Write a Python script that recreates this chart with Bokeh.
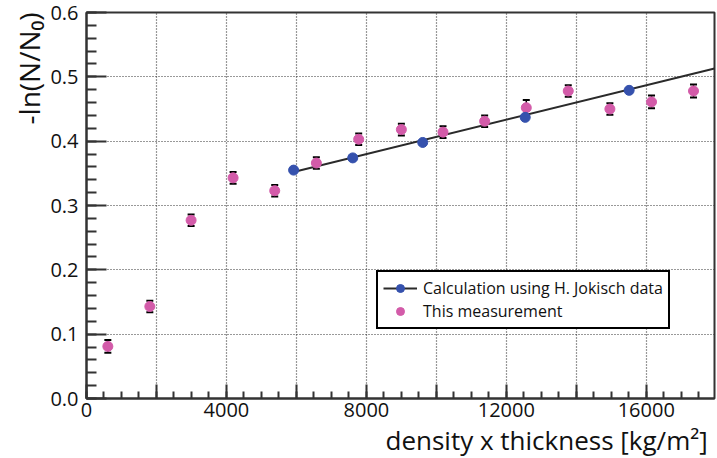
from bokeh.plotting import figure
from bokeh.models import (ColumnDataSource, Range1d, FixedTicker, NumeralTickFormatter,
                          Whisker, TeeHead, Legend, LegendItem, Title)
from bokeh.embed import file_html
from bokeh.resources import INLINE

# ---- data ----
meas_x = [610, 1810, 2990, 4190, 5380, 6570, 7780, 9000, 10190, 11380, 12570, 13770, 14960, 16150, 17350]
meas_y = [0.081, 0.143, 0.277, 0.343, 0.323, 0.366, 0.403, 0.418, 0.414, 0.431, 0.452, 0.478, 0.450, 0.461, 0.478]
meas_err = [0.010, 0.009, 0.009, 0.009, 0.009, 0.009, 0.009, 0.009, 0.009, 0.009, 0.012, 0.009, 0.009, 0.010, 0.010]

calc_x = [5920, 7610, 9610, 12540, 15510]
calc_y = [0.355, 0.374, 0.398, 0.437, 0.479]

fit_x = [5920, 17950]
fit_y = [0.352, 0.513]

x_major = [0, 2000, 4000, 6000, 8000, 10000, 12000, 14000, 16000]
x_labelled = [0, 4000, 8000, 12000, 16000]
x_minor_step = 500
y_major = [0.0, 0.1, 0.2, 0.3, 0.4, 0.5, 0.6]
y_minor_step = 0.02

pink = "#d35ba9"
blue = "#3551ad"

p = figure(width=716, height=457, output_backend="svg", toolbar_location=None,
           x_range=Range1d(0, 17950), y_range=Range1d(0, 0.6),
           min_border_left=86, min_border_right=2, min_border_top=12, min_border_bottom=59)
p.background_fill_color = "white"
p.border_fill_color = "white"
p.outline_line_color = "#333333"
p.outline_line_width = 2

# ticks
x_minor = [i * x_minor_step for i in range(0, 37)]
p.xaxis.ticker = FixedTicker(ticks=x_major, minor_ticks=x_minor)
p.xaxis.major_label_overrides = {t: ("" if t not in x_labelled else str(t)) for t in x_major}
y_minor = [round(i * y_minor_step, 2) for i in range(0, 31)]
p.yaxis.ticker = FixedTicker(ticks=y_major, minor_ticks=y_minor)
p.yaxis.formatter = NumeralTickFormatter(format="0.0")

for ax in (p.xaxis, p.yaxis):
    ax.axis_line_color = "#333333"
    ax.axis_line_width = 2
    ax.major_tick_line_color = "#333333"
    ax.minor_tick_line_color = "#333333"
    ax.major_tick_line_width = 2
    ax.minor_tick_line_width = 2
    ax.major_tick_out = 0
    ax.minor_tick_out = 0
    ax.major_label_text_font = "Open Sans"
    ax.major_label_text_font_size = "20px"
    ax.major_label_text_color = "#111111"
p.yaxis.major_tick_in = 20
p.yaxis.minor_tick_in = 10
p.xaxis.major_tick_in = 14
p.xaxis.minor_tick_in = 7
p.yaxis.major_label_standoff = 8
p.xaxis.major_label_standoff = 4

for g in (p.xgrid, p.ygrid):
    g.grid_line_color = "#333333"
    g.grid_line_dash = "1 2"
    g.grid_line_width = 1.2

# fit line
fit_r = p.line(fit_x, fit_y, line_color="#2a2a2a", line_width=2)

# error bars
src_m = ColumnDataSource(data=dict(
    x=meas_x, y=meas_y,
    upper=[y + e for y, e in zip(meas_y, meas_err)],
    lower=[y - e for y, e in zip(meas_y, meas_err)]))
wh = Whisker(base="x", upper="upper", lower="lower", source=src_m,
             line_color="black", line_width=1.5,
             upper_head=TeeHead(size=7, line_color="black", line_width=2),
             lower_head=TeeHead(size=7, line_color="black", line_width=2))
p.add_layout(wh)

meas_r = p.scatter("x", "y", source=src_m, size=10, fill_color=pink, line_color=pink)
calc_r = p.scatter(calc_x, calc_y, size=10, fill_color=blue, line_color=blue)

legend = Legend(items=[
    LegendItem(label="Calculation using H. Jokisch data", renderers=[fit_r, calc_r]),
    LegendItem(label="This measurement", renderers=[meas_r]),
], location=(290, 69))
legend.border_line_color = "black"
legend.border_line_width = 2
legend.border_line_alpha = 1
legend.background_fill_color = "white"
legend.background_fill_alpha = 1
legend.label_text_font = "Open Sans"
legend.label_text_font_size = "16px"
legend.label_text_color = "#111111"
legend.padding = 5
legend.spacing = 1
legend.margin = 0
legend.glyph_width = 34
legend.glyph_height = 20
legend.label_height = 20
legend.label_standoff = 6
p.add_layout(legend)

# axis titles
ytitle = Title(text="-ln(N/N\u2080)", align="right", text_font="Open Sans",
               text_font_size="28px", text_font_style="normal", text_color="#111111",
               standoff=0, offset=0)
p.add_layout(ytitle, "left")
xtitle = Title(text="density x thickness  [kg/m\u00b2]", align="right", text_font="Open Sans",
               text_font_size="26px", text_font_style="normal", text_color="#111111",
               standoff=0, offset=0)
p.add_layout(xtitle, "below")

open("out.html", "w").write(file_html(p, INLINE))
